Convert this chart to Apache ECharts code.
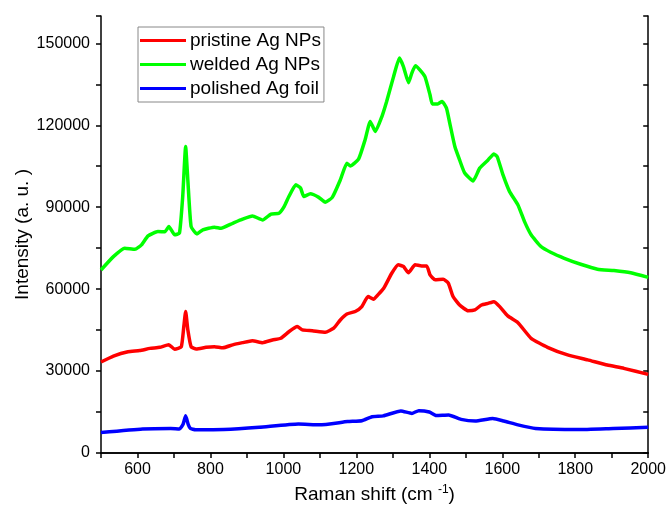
<!DOCTYPE html>
<html>
<head>
<meta charset="utf-8">
<script src="https://cdn.jsdelivr.net/npm/echarts@6/dist/echarts.min.js"></script>
<style>
  html, body { margin: 0; padding: 0; background: #fff; }
  #chart { width: 669px; height: 517px; }
</style>
</head>
<body>
<div id="chart"></div>
<script>
var seriesNames = ['pristine Ag NPs', 'welded Ag NPs', 'polished Ag foil'];
var seriesColors = ['#ff0000', '#00ff00', '#0000ff'];

// pristine Ag NPs
var pristineShift = [500, 534, 574, 606, 634, 661, 686, 702, 720, 727, 732, 738, 747, 761, 788, 811, 834, 861, 888, 915, 943, 970, 993, 1015, 1038, 1052, 1079, 1115, 1138, 1156, 1174, 1197, 1215, 1232, 1247, 1259, 1275, 1297, 1315, 1329, 1343, 1361, 1379, 1393, 1402, 1416, 1438, 1452, 1465, 1483, 1506, 1525, 1543, 1561, 1577, 1593, 1615, 1643, 1679, 1724, 1779, 1834, 1888, 1933, 2000];
var pristineInt = [33300, 35500, 37100, 37500, 38300, 38700, 39600, 38000, 38900, 46300, 51800, 45100, 38900, 38100, 38700, 38900, 38500, 39600, 40400, 41100, 40400, 41400, 42000, 44400, 46300, 45100, 44800, 44200, 45700, 48700, 50900, 51800, 53600, 57300, 56300, 57900, 60300, 65800, 68900, 68300, 66000, 68900, 68500, 68500, 65200, 63400, 63600, 62200, 57300, 54200, 52100, 52400, 54200, 54800, 55400, 53600, 50200, 47700, 42000, 38700, 35900, 34100, 32200, 31000, 28800];

// welded Ag NPs
var weldedShift = [500, 534, 565, 593, 611, 629, 656, 675, 686, 702, 715, 724, 732, 738, 747, 763, 779, 811, 829, 861, 888, 915, 943, 966, 988, 1002, 1015, 1034, 1047, 1056, 1074, 1097, 1115, 1134, 1156, 1174, 1183, 1206, 1224, 1238, 1252, 1270, 1283, 1302, 1318, 1329, 1343, 1352, 1362, 1374, 1388, 1402, 1408, 1423, 1435, 1447, 1456, 1470, 1483, 1497, 1520, 1538, 1561, 1577, 1586, 1602, 1620, 1643, 1661, 1679, 1706, 1734, 1770, 1815, 1861, 1906, 1952, 2000];
var weldedInt = [67000, 71900, 75000, 74600, 76200, 79500, 81100, 81000, 82900, 79900, 80500, 93900, 112200, 100000, 82900, 80200, 81700, 82700, 82300, 84100, 85600, 86800, 85300, 87500, 87800, 90200, 93900, 98200, 97000, 93900, 94900, 93600, 91800, 93600, 100000, 106100, 105100, 107600, 114700, 121400, 117700, 123200, 128700, 137800, 144600, 141500, 135600, 139100, 141800, 140300, 137800, 131100, 127800, 127800, 128700, 126300, 120800, 112200, 107300, 102500, 99600, 104300, 107300, 109500, 108500, 101800, 95700, 90800, 84700, 79900, 75600, 73400, 71300, 69100, 67300, 66800, 66000, 64300];

// polished Ag foil
var foilShift = [500, 614, 691, 715, 725, 732, 739, 745, 759, 837, 934, 1041, 1099, 1176, 1215, 1243, 1274, 1322, 1352, 1371, 1400, 1419, 1453, 1487, 1526, 1574, 1604, 1643, 1691, 1808, 1904, 2000];
var foilInt = [7500, 8800, 9000, 8800, 10500, 13600, 10500, 9000, 8500, 8600, 9400, 10600, 10300, 11500, 11800, 13300, 13600, 15400, 14500, 15500, 15000, 13700, 13900, 12300, 11700, 12600, 11700, 10300, 9000, 8600, 9000, 9400];

function pairs(xs, ys) {
  return xs.map(function (x, i) { return [x, ys[i]]; });
}

var chart = echarts.init(document.getElementById('chart'));
var font = 'Liberation Sans, Arial, sans-serif';

var allData = [pairs(pristineShift, pristineInt), pairs(weldedShift, weldedInt), pairs(foilShift, foilInt)];

var option = {
  animation: false,
  textStyle: { fontFamily: font },
  grid: { left: 101, right: 18, top: 16, bottom: 64 },
  legend: {
    orient: 'vertical',
    left: 138,
    top: 27,
    data: seriesNames,
    icon: 'rect',
    itemWidth: 46,
    itemHeight: 3,
    itemGap: 3,
    padding: [3, 3, 3, 2],
    borderColor: '#888',
    borderWidth: 1,
    textStyle: { fontFamily: font, fontSize: 19, color: '#000', lineHeight: 21, padding: [0, 0, 0, -1] }
  },
  xAxis: [{
    type: 'value',
    min: 500, max: 2000, interval: 100,
    name: 'Raman shift (cm {sup|-1})',
    nameLocation: 'middle',
    nameGap: 31,
    nameMoveOverlap: false,
    nameTextStyle: { fontSize: 19, color: '#000', rich: { sup: { fontSize: 12, verticalAlign: 'top', padding: [0, 0, 10, 0] } } },
    axisLine: { lineStyle: { color: '#000', width: 1.5 } },
    axisTick: { inside: false, length: 5, lineStyle: { color: '#000', width: 1.5 } },
    axisLabel: {
      fontSize: 16, color: '#000', margin: 9,
      formatter: function (v) { return v % 200 === 0 ? String(v) : ''; }
    },
    splitLine: { show: false }
  }, {
    type: 'value', position: 'top',
    min: 500, max: 2000, interval: 100,
    axisLine: { lineStyle: { color: '#000', width: 1.5 } },
    axisTick: { inside: true, length: 5, lineStyle: { color: '#000', width: 1.5 } },
    axisLabel: { show: false },
    splitLine: { show: false }
  }],
  yAxis: [{
    type: 'value',
    min: 0, max: 160000, interval: 15000,
    name: 'Intensity (a. u. )',
    nameLocation: 'middle',
    nameGap: 69,
    nameMoveOverlap: false,
    nameTextStyle: { fontSize: 19, color: '#000' },
    axisLine: { show: true, lineStyle: { color: '#000', width: 1.5 } },
    axisTick: { show: true, length: 5, lineStyle: { color: '#000', width: 1.5 } },
    axisLabel: {
      fontSize: 16, color: '#000', margin: 11,
      formatter: function (v) { return (v % 30000 === 0 && v <= 150000) ? String(v) : ''; }
    },
    splitLine: { show: false }
  }, {
    type: 'value', position: 'right',
    min: 0, max: 160000, interval: 15000,
    axisLine: { show: true, lineStyle: { color: '#000', width: 1.5 } },
    axisTick: { show: true, inside: true, length: 5, lineStyle: { color: '#000', width: 1.5 } },
    axisLabel: { show: false },
    splitLine: { show: false }
  }],
  series: seriesNames.map(function (name, i) {
    return {
      name: name,
      type: 'line',
      data: allData[i],
      showSymbol: false,
      smooth: 0.15,
      color: seriesColors[i],
      lineStyle: { color: seriesColors[i], width: 3.5 }
    };
  })
};

chart.setOption(option);
</script>
</body>
</html>
